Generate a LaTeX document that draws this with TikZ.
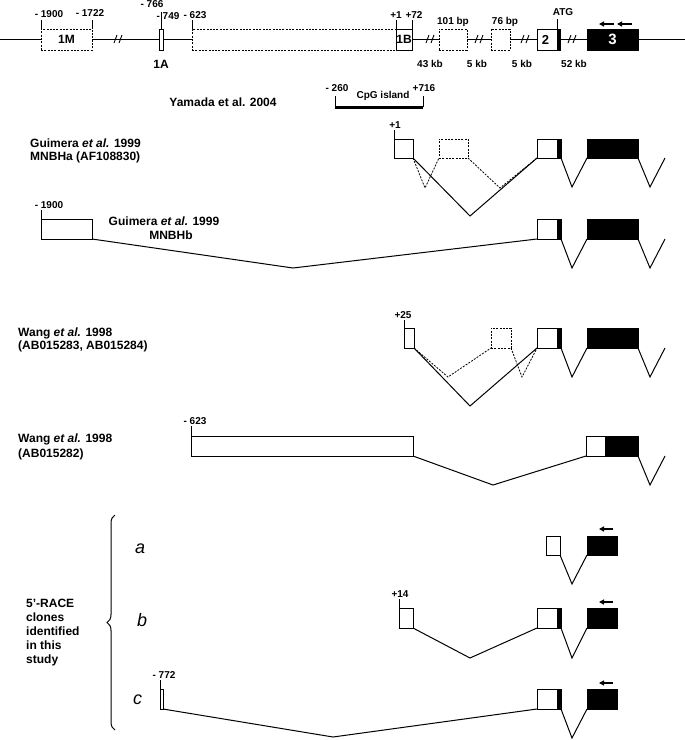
\documentclass[tikz,border=0pt]{standalone}
\usepackage{fontspec}
\setmainfont{Liberation Sans}
\usetikzlibrary{decorations.pathreplacing,arrows.meta,calc}
\begin{document}
\begin{tikzpicture}[x=1pt,y=-1pt,
  exon/.style={draw, line width=0.9pt, fill=white, inner sep=0pt, outer sep=0pt, anchor=north west},
  dexon/.style={exon, line width=0.8pt, dash pattern=on 2pt off 1.3pt},
  bexon/.style={exon, fill=black},
  spl/.style={line width=1pt},
  dspl/.style={line width=0.8pt, dash pattern=on 2pt off 1.3pt},
  tk/.style={line width=1pt},
  sm/.style={font=\fontsize{10}{12}\selectfont\bfseries, inner sep=0pt, text height=7.2pt, text depth=0pt},
  rl/.style={font=\fontsize{12}{13}\selectfont\bfseries, inner sep=0pt, anchor=base west},
  rc/.style={font=\fontsize{12}{13}\selectfont\bfseries, inner sep=0pt, anchor=base},
  big/.style={font=\fontsize{12}{12}\selectfont\bfseries},
  it/.style={font=\fontsize{18}{18}\selectfont\itshape, inner sep=0pt, anchor=base west},
  arr/.style={line width=1.2pt, -{Triangle[length=5pt,width=5pt]}},
  brk/.style={line width=0.9pt}]
\useasboundingbox (0,0) rectangle (685,740);

% ---------- genomic structure ----------
\coordinate (gl) at (0,39);
\coordinate (gr) at (685,39);
\draw[spl] (gl) -- (gr);
\foreach \bx in {118,430,479,525,572}{
  \draw[brk] (\bx-4,43) -- (\bx-1,35);
  \draw[brk] (\bx+1,43) -- (\bx+4,35);
}
\node[dexon, minimum width=51pt, minimum height=21pt, big] (m1) at (41,29) {1M};
\node[exon, minimum width=4pt, minimum height=21pt] (a1) at (159,29) {};
\node[dexon, minimum width=204pt, minimum height=21pt] (big) at (192,29) {};
\node[exon, minimum width=16pt, minimum height=21pt, big] (b1) at (396,29) {1B};
\node[dexon, minimum width=28pt, minimum height=21pt] (d101) at (439,29) {};
\node[dexon, minimum width=19pt, minimum height=21pt] (d76) at (491,29) {};
\node[exon, minimum width=23pt, minimum height=21pt] (e2) at (537,29) {};
\fill ($(e2.north east)+(-3,0)$) rectangle (e2.south east);
\node[font=\fontsize{13}{13}\selectfont\bfseries] (e2t) at (545.5,40) {2};
\node[bexon, minimum width=51pt, minimum height=21pt] (e3) at (587,29) {};
\node[font=\fontsize{15}{15}\selectfont\bfseries, text=white] (e3t) at (e3.center) {3};

\draw[tk] (m1.north west) -- ++(0,-9);
\draw[tk] (m1.north east) -- ++(0,-9);
\draw[tk] (a1.north) -- ++(0,-17);
\draw[tk] (big.north west) -- ++(0,-9);
\draw[tk] (b1.north west) -- ++(0,-9);
\draw[tk] (b1.north east) -- ++(0,-9);
\draw[tk] ($(e2.north east)+(-3,0)$) coordinate (atg) -- ++(0,-10);

\node[sm] (l1900) at (49,14) {- 1900};
\node[sm] (l1722) at (90,13) {- 1722};
\node[sm] (l766) at (152,4) {- 766};
\node[sm] (l749) at (168,16) {- 749};
\node[sm] (l623) at (195,15) {- 623};
\node[sm] (lp1) at (396,15) {+1};
\node[sm] (lp72) at (414,15) {+72};
\node[sm] (l101) at (453,21) {101 bp};
\node[sm] (l76) at (505,21) {76 bp};
\node[sm] (latg) at (563,12) {ATG};
\node[big] (l1a) at (161,64) {1A};
\node[sm] (k43) at (430,64) {43 kb};
\node[sm] (k5a) at (477,64) {5 kb};
\node[sm] (k5b) at (522,64) {5 kb};
\node[sm] (k52) at (574,64) {52 kb};
\draw[arr] (614,24) -- (599,24);
\draw[arr] (632,24) -- (617,24);

% ---------- CpG island ----------
\node[rc] (yam) at (223,106.3) {Yamada et al. 2004};
\coordinate (cpgL) at (335,107.3);
\coordinate (cpgR) at (423,107.3);
\draw[line width=3.6pt] (cpgL) -- (cpgR);
\draw[tk] (cpgL) -- ++(0,-11);
\draw[tk] (cpgR) -- ++(0,-11);
\node[sm] (l260) at (337,88) {- 260};
\node[sm] (l716) at (424,88) {+716};
\node[sm] (cpg) at (383,95) {CpG island};

% ---------- row 1: MNBHa ----------
\node[rl] (t1a) at (30,147.3) {Guimera \textit{et al.} 1999};
\node[rl] (t1b) at (30,160.3) {MNBHa (AF108830)};
\node[exon, minimum width=19pt, minimum height=19pt] (r1a) at (394,139) {};
\node[dexon, minimum width=29pt, minimum height=19pt] (r1d) at (439,139) {};
\node[exon, minimum width=24pt, minimum height=19pt] (r1b) at (537,139) {};
\fill ($(r1b.north east)+(-4,0)$) rectangle (r1b.south east);
\node[bexon, minimum width=51pt, minimum height=19pt] (r1c) at (587,139) {};
\draw[tk] (r1a.north west) -- ++(0,-9);
\node[sm] (r1l) at (395,125) {+1};
\draw[dspl] (r1a.south east) -- (425,188) -- (r1d.south west);
\draw[dspl] (r1d.south east) -- (500,188) -- (r1b.south west);
\draw[spl] (r1a.south east) -- (470,216) -- (r1b.south west);
\draw[spl] (r1b.south east) -- ++(11,29) -- (r1c.south west);
\draw[spl] (r1c.south east) -- ++(12,29) -- ++(15,-29);

% ---------- row 2: MNBHb ----------
\node[rc] (t2a) at (164,225.3) {Guimera \textit{et al.} 1999};
\node[rc] (t2b) at (171,239.3) {MNBHb};
\node[exon, minimum width=51pt, minimum height=20pt] (r2a) at (41,219) {};
\node[exon, minimum width=24pt, minimum height=20pt] (r2b) at (537,219) {};
\fill ($(r2b.north east)+(-4,0)$) rectangle (r2b.south east);
\node[bexon, minimum width=51pt, minimum height=20pt] (r2c) at (587,219) {};
\draw[tk] (r2a.north west) -- ++(0,-9);
\node[sm] (r2l) at (49,205) {- 1900};
\draw[spl] (r2a.south east) -- (293,268) -- (r2b.south west);
\draw[spl] (r2b.south east) -- ++(11,29) -- (r2c.south west);
\draw[spl] (r2c.south east) -- ++(12,29) -- ++(15,-29);

% ---------- row 3: Wang AB015283/4 ----------
\node[rl] (t3a) at (18,336.3) {Wang \textit{et al.} 1998};
\node[rl] (t3b) at (18,349.3) {(AB015283, AB015284)};
\node[exon, minimum width=10pt, minimum height=20pt] (r3a) at (404,328) {};
\node[dexon, minimum width=20pt, minimum height=20pt] (r3d) at (491,328) {};
\node[exon, minimum width=24pt, minimum height=20pt] (r3b) at (537,328) {};
\fill ($(r3b.north east)+(-4,0)$) rectangle (r3b.south east);
\node[bexon, minimum width=51pt, minimum height=20pt] (r3c) at (587,328) {};
\draw[tk] (r3a.north west) -- ++(0,-8);
\node[sm] (r3l) at (403,315) {+25};
\draw[dspl] (r3a.south east) -- (448,377) -- (r3d.south west);
\draw[dspl] (r3d.south east) -- (522,377) -- (r3b.south west);
\draw[spl] (r3a.south east) -- (470,406) -- (r3b.south west);
\draw[spl] (r3b.south east) -- ++(11,29) -- (r3c.south west);
\draw[spl] (r3c.south east) -- ++(12,29) -- ++(15,-29);

% ---------- row 4: Wang AB015282 ----------
\node[rl] (t4a) at (18,442.3) {Wang \textit{et al.} 1998};
\node[rl] (t4b) at (18,457.3) {(AB015282)};
\node[exon, minimum width=222pt, minimum height=20pt] (r4a) at (191,436) {};
\node[exon, minimum width=52pt, minimum height=20pt] (r4c) at (586,436) {};
\fill ($(r4c.north west)+(19,0)$) rectangle (r4c.south east);
\draw[tk] (r4a.north west) -- ++(0,-10);
\node[sm] (r4l) at (195,421) {- 623};
\draw[spl] (r4a.south east) -- (493,485) -- (r4c.south west);
\draw[spl] (r4c.south east) -- ++(12,29) -- ++(15,-29);

% ---------- 5'-RACE clones ----------
\draw[decorate, decoration={brace, amplitude=8pt}, line width=1pt] (115,730) -- (115,515);
\node[rl] (t5a) at (26,607.3) {5’-RACE};
\node[rl] (t5b) at (26,621.3) {clones};
\node[rl] (t5c) at (26,635.3) {identified};
\node[rl] (t5d) at (26,649.3) {in this};
\node[rl] (t5e) at (26,663.3) {study};
\node[it] (ta) at (135,553) {a};
\node[it] (tb) at (137,626) {b};
\node[it] (tc) at (133,704) {c};

% clone a
\node[exon, minimum width=14pt, minimum height=19pt] (rab) at (546,536) {};
\node[bexon, minimum width=30pt, minimum height=19pt] (rac) at (587,536) {};
\draw[spl] (rab.south east) -- (572,584) -- (rac.south west);
\draw[arr] ($(rac.north east)+(-4,-7)$) -- ++(-14,0);

% clone b
\node[exon, minimum width=14pt, minimum height=20pt] (rba) at (399,608) {};
\node[exon, minimum width=24pt, minimum height=20pt] (rbb) at (537,608) {};
\fill ($(rbb.north east)+(-4,0)$) rectangle (rbb.south east);
\node[bexon, minimum width=30pt, minimum height=20pt] (rbc) at (587,608) {};
\draw[tk] (rba.north west) -- ++(0,-9);
\node[sm] (rbl) at (400,594) {+14};
\draw[spl] (rba.south east) -- (470,658) -- (rbb.south west);
\draw[spl] (rbb.south east) -- ++(11,30) -- (rbc.south west);
\draw[arr] ($(rbc.north east)+(-4,-6)$) -- ++(-14,0);

% clone c
\node[exon, minimum width=3pt, minimum height=20pt] (rca) at (160,689) {};
\node[exon, minimum width=24pt, minimum height=20pt] (rcb) at (537,689) {};
\fill ($(rcb.north east)+(-4,0)$) rectangle (rcb.south east);
\node[bexon, minimum width=30pt, minimum height=20pt] (rcc) at (587,689) {};
\draw[tk] (rca.north west) -- ++(0,-9);
\node[sm] (rcl) at (164,675) {- 772};
\draw[spl] (rca.south east) -- (333,737) -- (rcb.south west);
\draw[spl] (rcb.south east) -- ++(11,29) -- (rcc.south west);
\draw[arr] ($(rcc.north east)+(-4,-6)$) -- ++(-14,0);
\end{tikzpicture}
\end{document}
